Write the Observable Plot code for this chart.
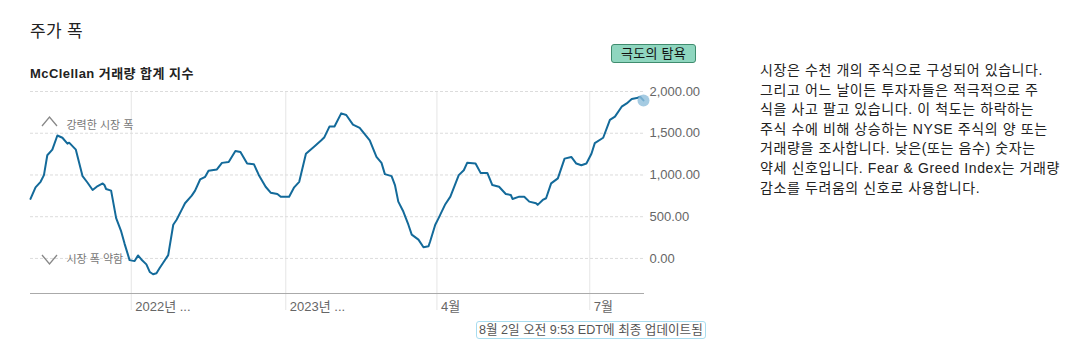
<!DOCTYPE html>
<html><head><meta charset="utf-8">
<script src="https://cdn.jsdelivr.net/npm/d3@7"></script>
<script src="https://cdn.jsdelivr.net/npm/@observablehq/plot@0.6"></script>
<style>
body{margin:0;background:#fff;font-family:"Liberation Sans",Arial,"Noto Sans CJK KR",sans-serif;}
#wrap{position:relative;width:1076px;height:351px;overflow:hidden;background:#fff;}
#title{position:absolute;left:30px;top:21px;font-size:17px;color:#222;line-height:22px;letter-spacing:0.3px;}
#subtitle{position:absolute;left:30px;top:65px;font-size:13px;font-weight:bold;color:#222;line-height:18px;letter-spacing:0.45px;}
#badge{position:absolute;left:611px;top:44px;width:83px;height:17px;background:#8fd6bf;border:1px solid #3f8c6e;border-radius:3px;font-size:13px;color:#111;text-align:center;line-height:17px;letter-spacing:0.3px;}
#chart{position:absolute;left:0;top:80px;}
#desc{position:absolute;left:760px;top:61px;font-size:14px;color:#222;line-height:19.6px;white-space:nowrap;letter-spacing:0.6px;}
#footer{position:absolute;left:476px;top:321px;height:16px;padding:0 2px;border:1px solid #a8ddf0;border-radius:3px;font-size:12.6px;color:#555;line-height:16px;white-space:nowrap;}
#chev{position:absolute;left:0;top:0;}
</style></head><body>
<div id="wrap">
  <div id="title">주가 폭</div>
  <div id="subtitle">McClellan 거래량 합계 지수</div>
  <div id="badge">극도의 탐욕</div>
  <div id="chart"></div>
  <svg id="chev" width="80" height="300">
    <polyline points="42,126 49.5,117 57,126" fill="none" stroke="#888" stroke-width="1.3"/>
    <polyline points="42,255 49.5,264 57,255" fill="none" stroke="#888" stroke-width="1.3"/>
  </svg>
  <div id="desc">
    <div>시장은 수천 개의 주식으로 구성되어 있습니다.</div>
    <div>그리고 어느 날이든 투자자들은 적극적으로 주</div>
    <div>식을 사고 팔고 있습니다. 이 척도는 하락하는</div>
    <div>주식 수에 비해 상승하는 NYSE 주식의 양 또는</div>
    <div>거래량을 조사합니다. 낮은(또는 음수) 숫자는</div>
    <div>약세 신호입니다. Fear &amp; Greed Index는 거래량</div>
    <div>감소를 두려움의 신호로 사용합니다.</div>
  </div>
  <div id="footer">8월 2일 오전 9:53 EDT에 최종 업데이트됨</div>
</div>
<script>
const dates = ["2022-08-02","2022-08-05","2022-08-08","2022-08-10","2022-08-12","2022-08-15","2022-08-18","2022-08-21","2022-08-24","2022-08-25","2022-08-29","2022-09-02","2022-09-05","2022-09-08","2022-09-11","2022-09-14","2022-09-15","2022-09-16","2022-09-19","2022-09-22","2022-09-25","2022-09-27","2022-09-30","2022-10-03","2022-10-05","2022-10-07","2022-10-10","2022-10-12","2022-10-14","2022-10-16","2022-10-18","2022-10-20","2022-10-23","2022-10-26","2022-10-28","2022-10-31","2022-11-02","2022-11-06","2022-11-08","2022-11-11","2022-11-14","2022-11-16","2022-11-21","2022-11-24","2022-11-28","2022-12-02","2022-12-05","2022-12-09","2022-12-13","2022-12-16","2022-12-20","2022-12-23","2022-12-27","2022-12-29","2023-01-03","2023-01-06","2023-01-09","2023-01-13","2023-01-18","2023-01-22","2023-01-24","2023-01-27","2023-01-30","2023-02-03","2023-02-06","2023-02-10","2023-02-14","2023-02-20","2023-02-24","2023-02-27","2023-03-01","2023-03-05","2023-03-07","2023-03-09","2023-03-12","2023-03-15","2023-03-17","2023-03-21","2023-03-24","2023-03-27","2023-03-28","2023-03-31","2023-04-02","2023-04-06","2023-04-09","2023-04-14","2023-04-17","2023-04-19","2023-04-24","2023-04-27","2023-05-01","2023-05-04","2023-05-08","2023-05-12","2023-05-15","2023-05-16","2023-05-20","2023-05-23","2023-05-26","2023-05-30","2023-05-31","2023-06-03","2023-06-05","2023-06-08","2023-06-12","2023-06-16","2023-06-20","2023-06-23","2023-06-26","2023-06-29","2023-07-02","2023-07-04","2023-07-09","2023-07-13","2023-07-16","2023-07-20","2023-07-23","2023-07-26","2023-07-29","2023-07-31","2023-08-02"];
const values = [713,852,918,998,1236,1303,1473,1446,1375,1387,1303,986,907,820,867,899,880,832,812,483,324,178,-20,-32,36,-12,-71,-162,-190,-178,-111,-52,40,404,463,582,661,752,812,946,978,1050,1066,1145,1156,1287,1275,1137,1129,998,859,788,772,740,740,852,918,1255,1342,1414,1453,1580,1580,1738,1719,1604,1564,1414,1216,1145,1010,986,879,681,562,404,285,226,134,146,206,404,483,650,740,998,1057,1145,1137,1025,1025,879,859,772,760,713,740,740,681,661,642,701,721,899,959,1196,1216,1137,1117,1137,1255,1382,1446,1660,1699,1818,1857,1909,1921,1937,1893];
const xTicks = ["2022-10-01","2023-01-01","2023-04-01","2023-07-01"];
const xTickLabels = ["2022년 ...","2023년 ...","4월","7월"];
const yTicks = [0,500,1000,1500,2000];
const annoTop = ["강력한 시장 폭"];
const annoBottom = ["시장 폭 약함"];

const data = dates.map((d, i) => ({date: new Date(d), value: values[i]}));
const tickDates = xTicks.map(d => new Date(d));
const labelOf = new Map(tickDates.map((d, i) => [+d, xTickLabels[i]]));
const last = data[data.length - 1];

const chart = Plot.plot({
  width: 720,
  height: 240,
  marginLeft: 30,
  marginRight: 77,
  marginTop: 11,
  marginBottom: 27,
  style: {fontFamily: '"Liberation Sans", Arial, "Noto Sans CJK KR", sans-serif', fontSize: "13px", background: "transparent"},
  x: {type: "utc", domain: [new Date("2022-08-02"), new Date("2023-08-02")]},
  y: {domain: [-420, 2000]},
  marks: [
    Plot.gridX(tickDates, {stroke: "#e6e6e6", strokeOpacity: 1}),
    Plot.axisX(tickDates, {tickSize: 17, stroke: "#e6e6e6", strokeOpacity: 1, text: null, label: null}),
    Plot.axisX(tickDates, {tickSize: 0, tickPadding: 8, textAnchor: "start", dx: 4, fill: "#666", fontSize: 13, tickFormat: d => labelOf.get(+d), label: null}),
    Plot.gridY(yTicks, {stroke: "#dcdcdc", strokeOpacity: 1, strokeDasharray: "3,2"}),
    Plot.axisY(yTicks, {anchor: "right", tickSize: 0, tickPadding: 6, textAnchor: "start", fill: "#666", fontSize: 13, tickFormat: d => d3.format(",.2f")(d), label: null}),
    Plot.frame({anchor: "bottom", stroke: "#aaa"}),
    Plot.text(annoTop, {frameAnchor: "top-left", dx: 36, dy: 30, textAnchor: "start", fill: "#777", fontSize: 11}),
    Plot.text(annoBottom, {frameAnchor: "bottom-left", dx: 36, dy: -31, textAnchor: "start", fill: "#777", fontSize: 11}),
    Plot.lineY(data, {x: "date", y: "value", stroke: "#136a9a", strokeWidth: 2}),
    Plot.dot([last], {x: "date", y: "value", r: 6, fill: "#8fbedb", fillOpacity: 0.8, stroke: "none"})
  ]
});
document.getElementById("chart").appendChild(chart);
</script>
</body></html>
